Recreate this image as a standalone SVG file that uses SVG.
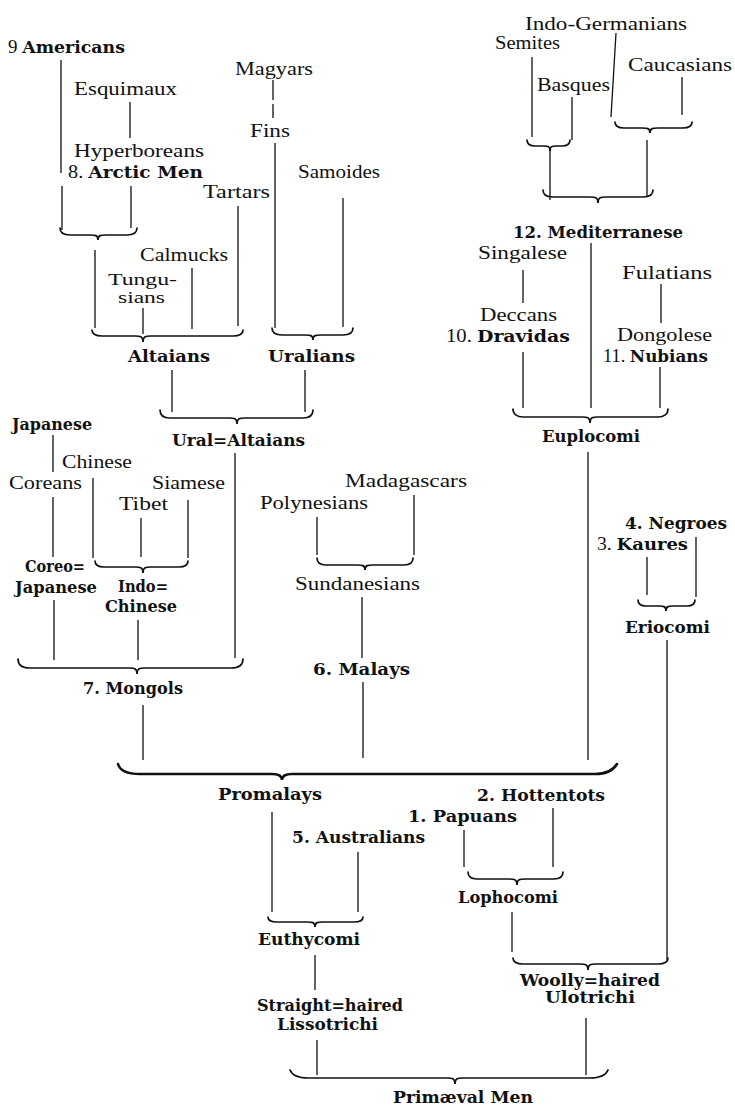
<svg xmlns="http://www.w3.org/2000/svg" width="735" height="1106" viewBox="0 0 735 1106">
<style>
.r{font-family:"Liberation Serif","Times New Roman",serif;font-size:18px;fill:#111}
.s{font-size:16px}
.f{font-family:"DejaVu Serif","Liberation Serif",serif;font-size:16.5px;font-weight:bold;fill:#111}
.b{font-family:"DejaVu Serif","Liberation Serif",serif;font-size:16px;font-weight:bold;fill:#111}
.n{font-family:"Liberation Serif","Times New Roman",serif;font-size:18px;font-weight:normal}
.ln{stroke:#111;stroke-width:1.3;fill:none}
.br{stroke:#111;stroke-width:1.7;fill:none;stroke-linecap:round}
.bb{stroke:#111;stroke-width:2.6;fill:none;stroke-linecap:round}
</style>
<rect width="735" height="1106" fill="#fff"/>
<g id="connectors">
<path class="ln" d="M61,60V173M62,186V230M130,102V138M131,186V228M95,250V328M143,308V334M192,268V329M238,206V326M273,80V100M273,104V118M275,143V328M343,198V327M172,370V412M305,370V412M235,453V658"/>
<path class="ln" d="M532,57V137M572,97V140M616,33L611,117M682,77V115M550,150V200M647,140V197M591,243V408M523,270V303M523,352V408M661,284V323M660,367V408M588,452V760"/>
<path class="ln" d="M53,435V472M53,497V557M93,478V558M141,518V557M188,500V558M54,600V660M138,620V660M143,705V760M317,517V555M414,495V555M362,597V658M363,682V758M696,537V597M647,557V595M667,640V960"/>
<path class="ln" d="M272,812V912M358,852V912M464,830V867M553,808V867M315,955V990M512,912V952M317,1040V1075M586,1018V1075"/>
<path class="br" d="M60,228 C60,233 64,235 70,235 L90,235 C95,235 98,235 98,240 C98,235 101,235 106,235 L127,235 C133,235 137,233 137,228"/>
<path class="br" d="M92,330 C92,335 96,336 102,336 L135,336 C140,336 143,336 143,342 C143,336 146,336 151,336 L233,336 C239,336 243,335 243,330"/>
<path class="br" d="M272,328 C272,333 276,335 282,335 L305,335 C310,335 313,335 313,340 C313,335 316,335 321,335 L343,335 C349,335 353,333 353,328"/>
<path class="br" d="M160,410 C160,416 164,418 170,418 L229,418 C234,418 237,418 237,424 C237,418 240,418 245,418 L303,418 C309,418 313,416 313,410"/>
<path class="br" d="M527,140 C527,144 530,146 535,146 L544,146 C548,146 550,146 550,151 C550,146 552,146 556,146 L562,146 C567,146 570,144 570,140"/>
<path class="br" d="M615,122 C615,126 618,128 624,128 L642,128 C647,128 650,128 650,133 C650,128 653,128 658,128 L683,128 C689,128 692,126 692,122"/>
<path class="br" d="M543,190 C543,195 547,197 553,197 L590,197 C595,197 598,197 598,203 C598,197 601,197 606,197 L643,197 C649,197 653,195 653,190"/>
<path class="br" d="M513,409 C513,414 517,417 523,417 L582,417 C587,417 590,417 590,423 C590,417 593,417 598,417 L658,417 C664,417 668,414 668,409"/>
<path class="br" d="M95,561 C95,565 98,567 104,567 L135,567 C140,567 143,567 143,573 C143,567 146,567 151,567 L179,567 C185,567 188,565 188,561"/>
<path class="br" d="M18,659 C18,665 22,668 30,668 L129,668 C134,668 137,668 137,674 C137,668 140,668 145,668 L231,668 C239,668 243,665 243,659"/>
<path class="br" d="M317,558 C317,563 320,565 326,565 L357,565 C362,565 365,565 365,570 C365,565 368,565 373,565 L404,565 C410,565 413,563 413,558"/>
<path class="br" d="M638,600 C638,604 641,606 646,606 L659,606 C663,606 666,606 666,611 C666,606 669,606 673,606 L687,606 C692,606 695,604 695,600"/>
<path class="bb" d="M118,764 C120,771 128,774 140,774 L272,774 C278,774 282,775 282,780 C282,775 286,774 292,774 L595,774 C607,774 614,769 617,764"/>
<path class="br" d="M468,872 C468,877 471,879 477,879 L509,879 C514,879 517,879 517,885 C517,879 520,879 525,879 L554,879 C560,879 563,877 563,872"/>
<path class="br" d="M268,917 C268,920 271,922 277,922 L307,922 C312,922 315,922 315,927 C315,922 318,922 323,922 L354,922 C360,922 363,920 363,917"/>
<path class="br" d="M513,958 C513,962 517,964 523,964 L580,964 C585,964 588,964 588,970 C588,964 591,964 596,964 L658,964 C664,964 668,962 668,958"/>
<path class="br" d="M290,1070 C292,1075 298,1078 308,1078 L447,1078 C452,1078 455,1078 455,1084 C455,1078 458,1078 463,1078 L590,1078 C600,1078 606,1075 608,1070"/>
</g>
<g id="americans"><text class="f" x="8" y="53" textLength="117" lengthAdjust="spacingAndGlyphs"><tspan class="n">9 </tspan>Americans</text></g>
<g id="magyars"><text class="r" x="235" y="75" textLength="78" lengthAdjust="spacingAndGlyphs">Magyars</text></g>
<g id="esquimaux"><text class="r" x="74" y="95" textLength="103" lengthAdjust="spacingAndGlyphs">Esquimaux</text></g>
<g id="fins"><text class="r" x="250" y="137" textLength="40" lengthAdjust="spacingAndGlyphs">Fins</text></g>
<g id="hyperboreans"><text class="r" x="74" y="157" textLength="130" lengthAdjust="spacingAndGlyphs">Hyperboreans</text></g>
<g id="arctic-men"><text class="f" x="68" y="178" textLength="135" lengthAdjust="spacingAndGlyphs"><tspan class="n">8. </tspan>Arctic Men</text></g>
<g id="samoides"><text class="r" x="298" y="178" textLength="82" lengthAdjust="spacingAndGlyphs">Samoides</text></g>
<g id="tartars"><text class="r" x="203" y="198" textLength="67" lengthAdjust="spacingAndGlyphs">Tartars</text></g>
<g id="indo-germanians"><text class="r" x="525" y="30" textLength="162" lengthAdjust="spacingAndGlyphs">Indo-Germanians</text></g>
<g id="semites"><text class="r" x="495" y="49" textLength="65" lengthAdjust="spacingAndGlyphs">Semites</text></g>
<g id="caucasians"><text class="r" x="628" y="71" textLength="104" lengthAdjust="spacingAndGlyphs">Caucasians</text></g>
<g id="basques"><text class="r" x="537" y="91" textLength="73" lengthAdjust="spacingAndGlyphs">Basques</text></g>
<g id="mediterranese"><text class="f" x="513" y="238" textLength="170" lengthAdjust="spacingAndGlyphs">12. Mediterranese</text></g>
<g id="singalese"><text class="r" x="478" y="259" textLength="89" lengthAdjust="spacingAndGlyphs">Singalese</text></g>
<g id="fulatians"><text class="r" x="622" y="279" textLength="90" lengthAdjust="spacingAndGlyphs">Fulatians</text></g>
<g id="calmucks"><text class="r" x="140" y="261" textLength="88" lengthAdjust="spacingAndGlyphs">Calmucks</text></g>
<g id="tungusians"><text class="r s" x="108" y="285" textLength="69" lengthAdjust="spacingAndGlyphs">Tungu-</text><text class="r s" x="118" y="303" textLength="47" lengthAdjust="spacingAndGlyphs">sians</text></g>
<g id="deccans"><text class="r" x="480" y="321" textLength="77" lengthAdjust="spacingAndGlyphs">Deccans</text></g>
<g id="dravidas"><text class="f" x="446" y="342" textLength="124" lengthAdjust="spacingAndGlyphs"><tspan class="n">10. </tspan>Dravidas</text></g>
<g id="dongolese"><text class="r" x="617" y="341" textLength="95" lengthAdjust="spacingAndGlyphs">Dongolese</text></g>
<g id="nubians"><text class="f" x="603" y="362" textLength="105" lengthAdjust="spacingAndGlyphs"><tspan class="n">11. </tspan>Nubians</text></g>
<g id="altaians"><text class="f" x="128" y="362" textLength="82" lengthAdjust="spacingAndGlyphs">Altaians</text></g>
<g id="uralians"><text class="f" x="268" y="362" textLength="87" lengthAdjust="spacingAndGlyphs">Uralians</text></g>
<g id="japanese"><text class="b" x="12" y="430" textLength="80" lengthAdjust="spacingAndGlyphs">Japanese</text></g>
<g id="ural-altaians"><text class="f" x="172" y="446" textLength="133" lengthAdjust="spacingAndGlyphs">Ural=Altaians</text></g>
<g id="euplocomi"><text class="b" x="542" y="442" textLength="98" lengthAdjust="spacingAndGlyphs">Euplocomi</text></g>
<g id="chinese"><text class="r" x="62" y="468" textLength="70" lengthAdjust="spacingAndGlyphs">Chinese</text></g>
<g id="coreans"><text class="r" x="9" y="489" textLength="73" lengthAdjust="spacingAndGlyphs">Coreans</text></g>
<g id="siamese"><text class="r" x="152" y="489" textLength="73" lengthAdjust="spacingAndGlyphs">Siamese</text></g>
<g id="madagascars"><text class="r" x="345" y="487" textLength="122" lengthAdjust="spacingAndGlyphs">Madagascars</text></g>
<g id="tibet"><text class="r" x="119" y="510" textLength="49" lengthAdjust="spacingAndGlyphs">Tibet</text></g>
<g id="polynesians"><text class="r" x="260" y="509" textLength="108" lengthAdjust="spacingAndGlyphs">Polynesians</text></g>
<g id="negroes"><text class="f" x="625" y="529" textLength="102" lengthAdjust="spacingAndGlyphs">4. Negroes</text></g>
<g id="kaures"><text class="f" x="597" y="550" textLength="91" lengthAdjust="spacingAndGlyphs"><tspan class="n">3. </tspan>Kaures</text></g>
<g id="coreo-japanese"><text class="f" x="25" y="572" textLength="60" lengthAdjust="spacingAndGlyphs">Coreo=</text><text class="f" x="15" y="593" textLength="82" lengthAdjust="spacingAndGlyphs">Japanese</text></g>
<g id="indo-chinese"><text class="f" x="118" y="592" textLength="50" lengthAdjust="spacingAndGlyphs">Indo=</text><text class="f" x="105" y="612" textLength="72" lengthAdjust="spacingAndGlyphs">Chinese</text></g>
<g id="sundanesians"><text class="r" x="295" y="590" textLength="125" lengthAdjust="spacingAndGlyphs">Sundanesians</text></g>
<g id="eriocomi"><text class="b" x="625" y="633" textLength="85" lengthAdjust="spacingAndGlyphs">Eriocomi</text></g>
<g id="malays"><text class="f" x="313" y="675" textLength="97" lengthAdjust="spacingAndGlyphs">6. Malays</text></g>
<g id="mongols"><text class="f" x="83" y="694" textLength="100" lengthAdjust="spacingAndGlyphs">7. Mongols</text></g>
<g id="promalays"><text class="f" x="218" y="800" textLength="104" lengthAdjust="spacingAndGlyphs">Promalays</text></g>
<g id="hottentots"><text class="f" x="477" y="801" textLength="128" lengthAdjust="spacingAndGlyphs">2. Hottentots</text></g>
<g id="papuans"><text class="f" x="408" y="822" textLength="109" lengthAdjust="spacingAndGlyphs">1. Papuans</text></g>
<g id="australians"><text class="f" x="292" y="843" textLength="133" lengthAdjust="spacingAndGlyphs">5. Australians</text></g>
<g id="lophocomi"><text class="b" x="458" y="903" textLength="100" lengthAdjust="spacingAndGlyphs">Lophocomi</text></g>
<g id="euthycomi"><text class="b" x="258" y="945" textLength="102" lengthAdjust="spacingAndGlyphs">Euthycomi</text></g>
<g id="woolly-haired"><text class="f" x="520" y="986" textLength="140" lengthAdjust="spacingAndGlyphs">Woolly=haired</text><text class="b" x="545" y="1003" textLength="90" lengthAdjust="spacingAndGlyphs">Ulotrichi</text></g>
<g id="straight-haired"><text class="f" x="257" y="1011" textLength="146" lengthAdjust="spacingAndGlyphs">Straight=haired</text><text class="b" x="277" y="1030" textLength="101" lengthAdjust="spacingAndGlyphs">Lissotrichi</text></g>
<g id="primaeval-men"><text class="b" x="393" y="1103" textLength="140" lengthAdjust="spacingAndGlyphs">Primæval Men</text></g>
</svg>
